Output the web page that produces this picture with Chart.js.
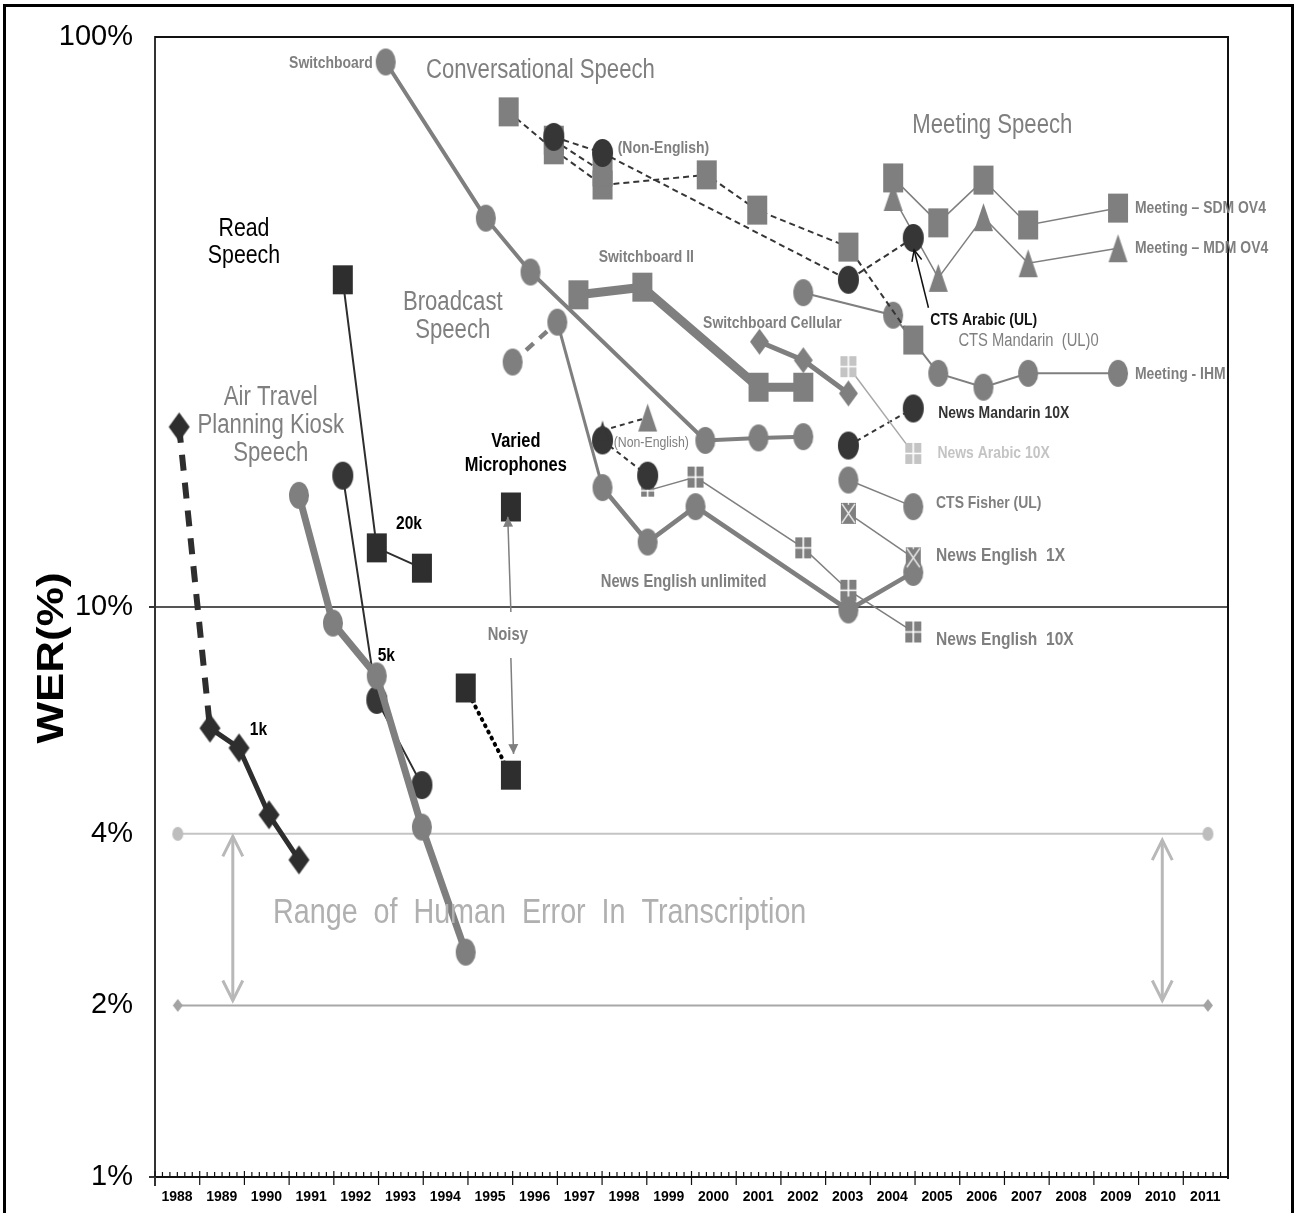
<!DOCTYPE html>
<html><head><meta charset="utf-8">
<script src="https://cdn.jsdelivr.net/npm/chart.js@4.4.1/dist/chart.umd.min.js"></script>
<style>html,body{margin:0;padding:0;background:#fff;}canvas{display:block;}</style>
</head><body>
<canvas id="c" width="1296" height="1213"></canvas>
<script>
// ===================== DATA (year, WER %) =====================
const yearTicks = [1988,1989,1990,1991,1992,1993,1994,1995,1996,1997,1998,1999,2000,2001,2002,2003,2004,2005,2006,2007,2008,2009,2010,2011];
const werTicks = [1,2,4,10,100];

const read1k   = [[1988.54,20.7],[1989.23,6.13],[1989.88,5.66],[1990.55,4.32],[1991.22,3.60]];
const read5k   = [[1992.20,17.0],[1992.96,6.87],[1993.97,4.87]];
const read20k  = [[1992.20,37.5],[1992.96,12.7],[1993.97,11.7]];
const atis     = [[1991.22,15.7],[1991.98,9.37],[1992.96,7.57],[1993.97,4.11],[1994.95,2.48]];
const variedMic= [[1995.96,14.98]];
const noisy    = [[1994.95,7.21],[1995.96,5.07]];
const switchboard = [[1993.16,90.4],[1995.40,48.1],[1996.40,38.7],[2000.31,19.6],[2001.50,19.8],[2002.50,19.9]];
const ctsNonEngSq   = [[1995.91,73.9],[1996.92,63.4],[1998.01,55.0],[2000.34,57.3],[2001.47,49.7],[2003.51,42.8],[2004.96,29.4]];
const ctsNonEngSq2  = [[1996.92,65.9],[1998.01,58.0]];
const ctsNonEngCirc = [[1996.92,66.8],[1998.01,62.6],[2003.51,37.5],[2004.96,44.4]];
const newsUnlimited = [[1996.00,26.9],[1997.00,31.6],[1998.01,16.2],[1999.02,13.0],[2000.09,15.0],[2003.51,9.88],[2004.96,11.5]];
const bnNonEngCirc  = [[1998.01,19.6],[1999.02,17.0]];
const bnNonEngTri   = [[1998.01,20.4],[1999.02,21.5]];
const news10x  = [[1999.02,16.0],[2000.09,16.9],[2002.50,12.7],[2003.51,10.7],[2004.96,9.04]];
const news1x   = [[2003.51,14.6],[2004.96,12.2]];
const ctsFisher= [[2003.51,16.7],[2004.96,15.0]];
const newsArabic10x   = [[2003.51,26.4],[2004.96,18.6]];
const newsMandarin10x = [[2003.51,19.2],[2004.96,22.3]];
const swbII    = [[1997.47,35.3],[1998.90,36.4],[2001.50,24.3],[2002.50,24.3]];
const swbCell  = [[2001.52,29.2],[2002.50,27.1],[2003.51,23.7]];
const meetingSDM = [[2004.51,56.6],[2005.52,47.2],[2006.53,56.1],[2007.53,46.8],[2009.54,50.1]];
const meetingMDM = [[2004.51,52.4],[2005.52,37.8],[2006.53,48.3],[2007.53,40.1],[2009.54,42.6]];
const meetingIHM = [[2002.50,35.6],[2004.51,32.5],[2005.52,25.7],[2006.53,24.3],[2007.53,25.7],[2009.54,25.7]];
const humanHigh = [[1988.51,4],[2011.55,4]];
const humanLow  = [[1988.51,2],[2011.55,2]];

// ===================== STYLE =====================
const GRAY = '#7f7f7f', DARK = '#363636', LIGHT = '#c4c4c4';
function hasFont(name){
  const g=document.createElement('canvas').getContext('2d');
  g.font='40px monospace'; const a=g.measureText('100% Wide Testing').width;
  g.font='40px "'+name+'", monospace'; const b=g.measureText('100% Wide Testing').width;
  return Math.abs(a-b)>0.5;
}
const NARROW = hasFont('Liberation Sans Narrow');
const TICKFAM = NARROW ? '"Liberation Sans Narrow", "Liberation Sans", Arial, sans-serif' : '"Liberation Sans", Arial, sans-serif';

function marker(shape, w, h, fill){
  const c=document.createElement('canvas'); c.width=w+2; c.height=h+2;
  const g=c.getContext('2d'); const cx=(w+2)/2, cy=(h+2)/2;
  g.fillStyle=fill; g.beginPath();
  if(shape==='ellipse'){ g.ellipse(cx,cy,w/2,h/2,0,0,Math.PI*2); g.fill(); }
  else if(shape==='rect'){ g.fillRect(1,1,w,h); }
  else if(shape==='diamond'){ g.moveTo(cx,1);g.lineTo(w+1,cy);g.lineTo(cx,h+1);g.lineTo(1,cy);g.closePath();g.fill(); }
  else if(shape==='triangle'){ g.moveTo(cx,1);g.lineTo(w+1,h+1);g.lineTo(1,h+1);g.closePath();g.fill(); }
  else if(shape==='grid'){ g.fillRect(1,1,w,h); g.strokeStyle='#fff'; g.lineWidth=1.6; g.beginPath(); g.moveTo(cx,1);g.lineTo(cx,h+1);g.moveTo(1,cy);g.lineTo(w+1,cy); g.stroke(); }
  else if(shape==='xbox'){ g.fillRect(1,1,w,h); g.strokeStyle='#e8e8e8'; g.lineWidth=1.4; g.beginPath(); g.moveTo(2,2);g.lineTo(w,h);g.moveTo(w,2);g.lineTo(2,h); g.moveTo(cx,1); g.lineTo(cx,3); g.stroke(); }
  return c;
}
const M = {
  grayCircle: marker('ellipse',20,27,GRAY),
  darkCircle: marker('ellipse',21,28,DARK),
  graySq: marker('rect',20,29,GRAY),
  darkSq: marker('rect',20,29,'#2e2e2e'),
  grayTri: marker('triangle',19,28,GRAY),
  darkTriSmall: marker('triangle',12,20,DARK),
  grayDiamond: marker('diamond',19,26,GRAY),
  darkDiamond: marker('diamond',21,29,'#2e2e2e'),
  grid: marker('grid',16,21,GRAY),
  gridSmall: marker('grid',13,12,GRAY),
  gridLight: marker('grid',16,21,LIGHT),
  xbox: marker('xbox',15,21,GRAY),
  humanCircle: marker('ellipse',11,14,'#bdbdbd'),
  humanDiamond: marker('diamond',10,13,'#a3a3a3')
};

const pts = a => a.map(([x,y])=>({x,y}));
function ds(data, o){
  return Object.assign({data:pts(data), showLine:true, fill:false, tension:0, pointRadius:10, pointHoverRadius:10,
    borderColor:GRAY, borderWidth:2, pointStyle:M.grayCircle}, o);
}
const dashFirst = (d,w) => ({borderDash: c => c.p0DataIndex===0 ? d : undefined, borderWidth: c => c.p0DataIndex===0 ? w : undefined});

const datasets = [
  ds(read1k,   {borderColor:'#2e2e2e', borderWidth:5, pointStyle:M.darkDiamond, segment:dashFirst([16,12],6)}),
  ds(atis,     {borderColor:GRAY, borderWidth:7, pointStyle:M.grayCircle}),
  ds(read5k,   {borderColor:'#2e2e2e', borderWidth:2, pointStyle:M.darkCircle}),
  ds(read20k,  {borderColor:'#2e2e2e', borderWidth:2, pointStyle:M.darkSq}),
  ds(variedMic,{showLine:false, pointStyle:M.darkSq}),
  ds(noisy,    {borderColor:'#000', borderWidth:4, borderDash:[1,6], borderCapStyle:'round', pointStyle:M.darkSq}),
  ds(switchboard,{borderColor:GRAY, borderWidth:4, pointStyle:M.grayCircle}),
  ds(ctsNonEngCirc,{borderColor:DARK, borderWidth:2, borderDash:[6,4], pointStyle:M.darkCircle}),
  ds(ctsNonEngSq2,{borderColor:DARK, borderWidth:2, borderDash:[6,4], pointStyle:M.graySq}),
  ds(ctsNonEngSq,{borderColor:DARK, borderWidth:2, borderDash:[6,4], pointStyle:M.graySq}),
  ds(bnNonEngTri,{borderColor:DARK, borderWidth:2, borderDash:[5,4], pointStyle:[M.darkTriSmall, M.grayTri]}),
  ds(bnNonEngCirc,{borderColor:DARK, borderWidth:2, borderDash:[5,4], pointStyle:M.darkCircle}),
  ds(news1x,   {borderColor:GRAY, borderWidth:1.5, pointStyle:M.xbox}),
  ds(newsUnlimited,{borderColor:GRAY, borderWidth:4.5, pointStyle:M.grayCircle,
     segment:{borderDash: c => c.p0DataIndex===0 ? [10,8] : undefined, borderWidth: c => c.p0DataIndex===1 ? 3 : undefined}}),
  ds(news10x,  {borderColor:GRAY, borderWidth:1.5, pointStyle:[M.gridSmall,M.grid,M.grid,M.grid,M.grid]}),
  ds(ctsFisher,{borderColor:GRAY, borderWidth:1.5, pointStyle:M.grayCircle}),
  ds(newsArabic10x,{borderColor:'#a8a8a8', borderWidth:1.5, pointStyle:M.gridLight}),
  ds(newsMandarin10x,{borderColor:DARK, borderWidth:2, borderDash:[5,4], pointStyle:M.darkCircle}),
  ds(swbCell,  {borderColor:GRAY, borderWidth:5, pointStyle:M.grayDiamond}),
  ds(swbII,    {borderColor:GRAY, borderWidth:9, pointStyle:M.graySq}),
  ds(meetingSDM,{borderColor:GRAY, borderWidth:1.5, pointStyle:M.graySq}),
  ds(meetingMDM,{borderColor:GRAY, borderWidth:1.5, pointStyle:M.grayTri}),
  ds(meetingIHM,{borderColor:GRAY, borderWidth:2, pointStyle:M.grayCircle}),
  ds(humanHigh,{borderColor:'#c4c4c4', borderWidth:2, pointStyle:M.humanCircle}),
  ds(humanLow, {borderColor:'#a8a8a8', borderWidth:2, pointStyle:M.humanDiamond})
];

// ===================== ANNOTATIONS (data coordinates) =====================
const textLabels = [
 {t:'Switchboard', x:1992.87, y:90.0, align:'right', size:17, w:'bold', c:GRAY},
 {t:'Conversational Speech', x:1994.06, y:87.5, size:27, c:GRAY},
 {t:'Meeting Speech', x:2004.94, y:69.8, size:27, c:GRAY},
 {t:'Read\nSpeech', x:1989.99, y:46.0, align:'center', size:26, c:'#000', lh:27},
 {t:'Broadcast\nSpeech', x:1994.66, y:34.2, align:'center', size:27, c:GRAY, lh:28},
 {t:'Air Travel\nPlanning Kiosk\nSpeech', x:1990.59, y:23.3, align:'center', size:27, c:GRAY, lh:28},
 {t:'Varied\nMicrophones', x:1996.07, y:19.5, align:'center', size:20, w:'bold', c:'#000', lh:24},
 {t:'20k', x:1993.39, y:14.0, size:19, w:'bold', c:'#000'},
 {t:'5k', x:1992.98, y:8.20, size:19, w:'bold', c:'#000'},
 {t:'1k', x:1990.12, y:6.08, size:19, w:'bold', c:'#000'},
 {t:'Noisy', x:1995.89, y:8.93, align:'center', size:18, w:'bold', c:GRAY},
 {t:'(Non-English)', x:1998.35, y:63.9, size:17, w:'bold', c:GRAY},
 {t:'(Non-English)', x:1998.26, y:19.4, size:15, c:GRAY},
 {t:'Switchboard II', x:1998.99, y:41.1, align:'center', size:17, w:'bold', c:GRAY},
 {t:'Switchboard Cellular', x:2001.81, y:31.5, align:'center', size:17, w:'bold', c:GRAY},
 {t:'News English unlimited', x:1997.97, y:11.06, size:18, w:'bold', c:GRAY},
 {t:'Meeting \u2013 SDM OV4', x:2009.92, y:50.1, size:17, w:'bold', c:GRAY},
 {t:'Meeting \u2013 MDM OV4', x:2009.92, y:42.6, size:17, w:'bold', c:GRAY},
 {t:'Meeting - IHM', x:2009.92, y:25.6, size:17, w:'bold', c:GRAY},
 {t:'CTS Arabic (UL)', x:2005.34, y:31.9, size:17, w:'bold', c:'#111'},
 {t:'CTS Mandarin  (UL)0', x:2005.97, y:29.3, size:18, c:GRAY},
 {t:'News Mandarin 10X', x:2005.52, y:21.9, size:17, w:'bold', c:'#333'},
 {t:'News Arabic 10X', x:2005.50, y:18.6, size:17, w:'bold', c:LIGHT},
 {t:'CTS Fisher (UL)', x:2005.47, y:15.2, size:17, w:'bold', c:GRAY},
 {t:'News English  1X', x:2005.47, y:12.3, size:19, w:'bold', c:GRAY},
 {t:'News English  10X', x:2005.47, y:8.75, size:19, w:'bold', c:GRAY},
 {t:'Range  of  Human  Error  In  Transcription', x:1990.64, y:2.905, size:35, c:'#b0b0b0'}
];
const arrows = [
 {from:[2005.30,33.5], to:[2004.98,42.3], c:'#111', w:1.5, head:'open', hl:11, hw:5},
 {from:[1995.96,9.80], to:[1995.89,14.4], c:GRAY, w:1.5, head:'fill', hl:10, hw:5},
 {from:[1995.96,8.14], to:[1996.02,5.52], c:GRAY, w:1.5, head:'fill', hl:10, hw:5},
 {from:[1989.74,2.04], to:[1989.74,3.96], both:true, c:'#b8b8b8', w:3, head:'open', hl:20, hw:10},
 {from:[2010.53,2.04], to:[2010.53,3.90], both:true, c:'#b8b8b8', w:3, head:'open', hl:20, hw:10}
];

// ===================== PLUGINS =====================
function drawText(ctx, s, px, py, o){
  ctx.save();
  ctx.font = (o.w||'normal')+' '+o.size+'px "Liberation Sans", Arial, sans-serif';
  ctx.fillStyle = o.c; ctx.textBaseline='middle'; ctx.textAlign=o.align||'left';
  const lines = s.split('\n');
  lines.forEach((ln,i)=>{
    ctx.save(); ctx.translate(px, py + i*(o.lh||o.size)); ctx.scale(0.82,1); ctx.fillText(ln,0,0); ctx.restore();
  });
  ctx.restore();
}
function head(ctx, x1,y1,x2,y2, a){
  const ang=Math.atan2(y2-y1,x2-x1);
  const bx=x2-a.hl*Math.cos(ang), by=y2-a.hl*Math.sin(ang);
  const px=-Math.sin(ang)*a.hw, py=Math.cos(ang)*a.hw;
  ctx.beginPath(); ctx.moveTo(bx+px,by+py); ctx.lineTo(x2,y2); ctx.lineTo(bx-px,by-py);
  if(a.head==='fill'){ ctx.closePath(); ctx.fill(); } else ctx.stroke();
}
const decor = {
  id:'decor',
  beforeDraw(chart){
    const ctx=chart.ctx; ctx.save(); ctx.fillStyle='#fff'; ctx.fillRect(0,0,chart.width,chart.height);
    ctx.strokeStyle='#000'; ctx.lineWidth=3; ctx.strokeRect(4.5,5.5,1288,1230); ctx.restore();
  },
  beforeDatasetsDraw(chart){
    const ctx=chart.ctx, a=chart.chartArea;
    ctx.save(); ctx.strokeStyle='#111'; ctx.lineWidth=2;
    ctx.beginPath(); ctx.moveTo(a.left,a.top); ctx.lineTo(a.right,a.top); ctx.lineTo(a.right,a.bottom+2); ctx.stroke();
    ctx.restore();
  },
  afterDraw(chart){
    const ctx=chart.ctx, xs=chart.scales.x, ys=chart.scales.y, a=chart.chartArea;
    ctx.save();
    // x tick marks: major at years, 5 minor per year
    ctx.strokeStyle='#111'; ctx.lineWidth=1.2;
    for(let yr=1988; yr<2012; yr++){
      const p=xs.getPixelForValue(yr);
      ctx.beginPath(); ctx.moveTo(p, a.bottom-6); ctx.lineTo(p, a.bottom+8); ctx.stroke();
      for(let k=1;k<6;k++){
        const q=xs.getPixelForValue(yr+k/6);
        ctx.beginPath(); ctx.moveTo(q, a.bottom-5); ctx.lineTo(q, a.bottom); ctx.stroke();
      }
    }
    ctx.strokeStyle='#333'; ctx.lineWidth=2; ctx.beginPath(); ctx.moveTo(a.left, a.bottom); ctx.lineTo(a.left, a.bottom+9); ctx.stroke();
    // arrows
    arrows.forEach(ar=>{
      const x1=xs.getPixelForValue(ar.from[0]), y1=ys.getPixelForValue(ar.from[1]);
      const x2=xs.getPixelForValue(ar.to[0]), y2=ys.getPixelForValue(ar.to[1]);
      ctx.strokeStyle=ar.c; ctx.fillStyle=ar.c; ctx.lineWidth=ar.w; ctx.lineCap='butt';
      ctx.beginPath(); ctx.moveTo(x1,y1); ctx.lineTo(x2,y2); ctx.stroke();
      head(ctx,x1,y1,x2,y2,ar);
      if(ar.both) head(ctx,x2,y2,x1,y1,ar);
    });
    // text labels
    textLabels.forEach(l=>drawText(ctx, l.t, xs.getPixelForValue(l.x), ys.getPixelForValue(l.y), l));
    // y axis title
    ctx.save(); ctx.translate(53, (a.top+a.bottom)/2 + 51); ctx.rotate(-Math.PI/2); ctx.scale(1,0.85);
    ctx.font='bold 44px "Liberation Sans", Arial, sans-serif'; ctx.fillStyle='#000'; ctx.textAlign='center'; ctx.textBaseline='middle';
    ctx.fillText('WER(%)',0,0); ctx.restore();
    ctx.restore();
  }
};

new Chart(document.getElementById('c'), {
  type:'scatter',
  data:{datasets},
  options:{
    responsive:false, animation:false, events:[],
    layout:{padding:{top:37,right:68,left:0,bottom:0}},
    plugins:{legend:{display:false}, tooltip:{enabled:false}},
    scales:{
      x:{type:'linear', min:1988, max:2012,
         afterBuildTicks: s => { s.ticks = yearTicks.map(v=>({value:v})); },
         afterFit: s => { s.height = 36; },
         grid:{display:false},
         border:{display:true, color:'#111', width:2},
         ticks:{autoSkip:false, maxRotation:0, minRotation:0, labelOffset:22, padding:4, color:'#000',
                font:{family:TICKFAM, size:NARROW?16:14, weight:'bold'}, callback:v=>String(v)}},
      y:{type:'logarithmic', min:1, max:100,
         afterBuildTicks: s => { s.ticks = werTicks.map(v=>({value:v})); },
         afterFit: s => { s.width = 155; },
         grid:{color: c => (c.tick && c.tick.value===10) ? '#555' : 'rgba(0,0,0,0)', lineWidth:2,
               tickColor: c => (c.tick && (c.tick.value===10 || c.tick.value===1)) ? '#333' : 'rgba(0,0,0,0)', tickLength:6},
         border:{display:true, color:'#333', width:2},
         ticks:{padding:16, color:'#000', font:{family:TICKFAM, size:NARROW?32:29}, callback:v=>v+'%'}}
    }
  },
  plugins:[decor]
});
</script>
</body></html>
